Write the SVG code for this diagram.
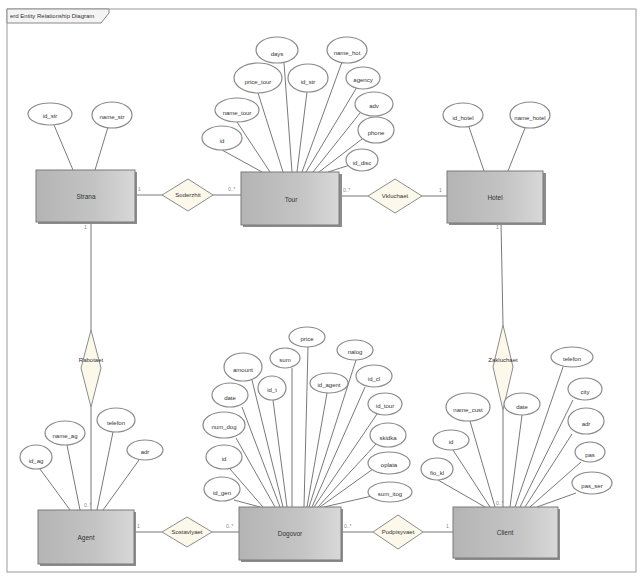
<svg xmlns="http://www.w3.org/2000/svg" width="640" height="577" viewBox="0 0 640 577">
<defs>
<linearGradient id="eg" x1="0" y1="0" x2="1" y2="0">
<stop offset="0" stop-color="#b4b4b4"/>
<stop offset="0.6" stop-color="#c4c4c4"/>
<stop offset="1" stop-color="#d8d8d8"/>
</linearGradient>
<style>
.frame{fill:none;stroke:#9a9a9a;stroke-width:1}
.tab{fill:#f4f4f4;stroke:#8a8a8a;stroke-width:1}
.ent{fill:url(#eg);stroke:#7a7a7a;stroke-width:1}
.sh{fill:#8c8c8c}
.rel{fill:#fcf8ea;stroke:#8c8c8c;stroke-width:1}
.att{fill:#ffffff;stroke:#8a8a8a;stroke-width:1.2}
.ln{stroke:#6a6a6a;stroke-width:0.9;fill:none}
.t{font-family:"Liberation Sans",Arial,sans-serif;font-size:6px;fill:#333;text-anchor:middle;dominant-baseline:central}
.et{font-family:"Liberation Sans",Arial,sans-serif;font-size:6.5px;fill:#333;text-anchor:middle;dominant-baseline:central}
.m{font-family:"Liberation Sans",Arial,sans-serif;font-size:5px;fill:#888}
.tt{font-family:"Liberation Sans",Arial,sans-serif;font-size:6px;fill:#333}
</style>
</defs>
<rect width="640" height="577" fill="#ffffff"/>
<g id="frame">
<rect class="frame" x="7" y="9" width="629" height="563"/>
<path class="tab" d="M7,9 H109 V13 L101,23 H7 Z"/>
<text class="tt" x="10" y="18">erd Entity Relationship Diagram</text>
</g>
<g id="connectors">
<line class="ln" x1="135" y1="195" x2="162" y2="195"/>
<line class="ln" x1="213" y1="195" x2="241" y2="195"/>
<line class="ln" x1="339" y1="196" x2="368" y2="196"/>
<line class="ln" x1="422" y1="196" x2="447" y2="196"/>
<line class="ln" x1="91" y1="222" x2="91" y2="330"/>
<line class="ln" x1="91" y1="407" x2="91" y2="510"/>
<line class="ln" x1="501" y1="222" x2="503" y2="325"/>
<line class="ln" x1="503" y1="410" x2="503" y2="507"/>
<line class="ln" x1="134" y1="532" x2="162" y2="532"/>
<line class="ln" x1="212" y1="532" x2="239" y2="532"/>
<line class="ln" x1="341" y1="532" x2="373" y2="532"/>
<line class="ln" x1="423" y1="532" x2="453" y2="532"/>
<!-- attribute links E1 -->
<line class="ln" x1="54" y1="125" x2="73" y2="170"/>
<line class="ln" x1="108" y1="127" x2="95" y2="170"/>
<!-- E2 -->
<line class="ln" x1="222" y1="150" x2="262" y2="172"/>
<line class="ln" x1="237" y1="122" x2="270" y2="172"/>
<line class="ln" x1="258" y1="93" x2="283" y2="172"/>
<line class="ln" x1="284" y1="63" x2="292" y2="172"/>
<line class="ln" x1="307" y1="92" x2="297" y2="172"/>
<line class="ln" x1="342" y1="62" x2="302" y2="172"/>
<line class="ln" x1="357" y1="87" x2="306" y2="172"/>
<line class="ln" x1="360" y1="113" x2="313" y2="172"/>
<line class="ln" x1="362" y1="139" x2="319" y2="172"/>
<line class="ln" x1="350" y1="165" x2="328" y2="172"/>
<!-- E3 -->
<line class="ln" x1="469" y1="127" x2="484" y2="171"/>
<line class="ln" x1="525" y1="128" x2="508" y2="171"/>
<!-- E4 -->
<line class="ln" x1="40" y1="469" x2="70" y2="510"/>
<line class="ln" x1="67" y1="445" x2="80" y2="510"/>
<line class="ln" x1="113" y1="432" x2="97" y2="510"/>
<line class="ln" x1="139" y1="460" x2="103" y2="510"/>
<!-- E5 -->
<line class="ln" x1="234" y1="500" x2="260" y2="507"/>
<line class="ln" x1="230" y1="469" x2="263" y2="507"/>
<line class="ln" x1="236" y1="438" x2="275" y2="507"/>
<line class="ln" x1="242" y1="407" x2="280" y2="507"/>
<line class="ln" x1="252" y1="380" x2="283" y2="507"/>
<line class="ln" x1="273" y1="400" x2="287" y2="507"/>
<line class="ln" x1="292" y1="368" x2="292" y2="507"/>
<line class="ln" x1="308" y1="347" x2="304" y2="507"/>
<line class="ln" x1="327" y1="393" x2="307" y2="507"/>
<line class="ln" x1="356" y1="360" x2="309" y2="507"/>
<line class="ln" x1="365" y1="387" x2="312" y2="507"/>
<line class="ln" x1="377" y1="414" x2="314" y2="507"/>
<line class="ln" x1="376" y1="444" x2="318" y2="507"/>
<line class="ln" x1="373" y1="469" x2="320" y2="507"/>
<line class="ln" x1="372" y1="496" x2="324" y2="507"/>
<!-- E6 -->
<line class="ln" x1="438" y1="480" x2="485" y2="507"/>
<line class="ln" x1="453" y1="450" x2="490" y2="507"/>
<line class="ln" x1="470" y1="421" x2="495" y2="507"/>
<line class="ln" x1="522" y1="415" x2="510" y2="507"/>
<line class="ln" x1="563" y1="367" x2="515" y2="507"/>
<line class="ln" x1="573" y1="400" x2="520" y2="507"/>
<line class="ln" x1="572" y1="434" x2="525" y2="507"/>
<line class="ln" x1="581" y1="462" x2="530" y2="507"/>
<line class="ln" x1="576" y1="493" x2="537" y2="507"/>
<!-- multiplicities -->
<text class="m" x="138" y="191">1</text>
<text class="m" x="228" y="191">0..*</text>
<text class="m" x="343" y="192">0..*</text>
<text class="m" x="439" y="192">1</text>
<text class="m" x="84" y="229">1</text>
<text class="m" x="84" y="507">0..*</text>
<text class="m" x="496" y="229">1</text>
<text class="m" x="496" y="505">0..*</text>
<text class="m" x="137" y="528">1</text>
<text class="m" x="226" y="528">0..*</text>
<text class="m" x="344" y="528">0..*</text>
<text class="m" x="446" y="528">1</text>
</g>
<g id="e1">
<rect class="sh" x="38" y="172" width="99" height="52"/>
<rect class="ent" x="36" y="170" width="99" height="52"/>
<text class="et" x="86" y="196">Strana</text>
</g>
<g id="e2">
<rect class="sh" x="243" y="174" width="99" height="53"/>
<rect class="ent" x="241" y="172" width="98" height="53"/>
<text class="et" x="291" y="199">Tour</text>
</g>
<g id="e3">
<rect class="sh" x="449" y="173" width="97" height="52"/>
<rect class="ent" x="447" y="171" width="96" height="52"/>
<text class="et" x="495" y="197">Hotel</text>
</g>
<g id="e4">
<rect class="sh" x="40" y="512" width="96" height="54"/>
<rect class="ent" x="38" y="510" width="96" height="54"/>
<text class="et" x="86" y="537">Agent</text>
</g>
<g id="e5">
<rect class="sh" x="241" y="509" width="102" height="53"/>
<rect class="ent" x="239" y="507" width="102" height="53"/>
<text class="et" x="290" y="533">Dogovor</text>
</g>
<g id="e6">
<rect class="sh" x="455" y="509" width="105" height="51"/>
<rect class="ent" x="453" y="507" width="105" height="51"/>
<text class="et" x="505" y="532">Client</text>
</g>
<g id="r1">
<polygon class="rel" points="162,195 188,179 213,195 188,211"/>
<text class="t" x="188" y="195">Soderzhit</text>
</g>
<g id="r2">
<polygon class="rel" points="368,196 395,179 422,196 395,213"/>
<text class="t" x="395" y="196">Vkluchaet</text>
</g>
<g id="r3">
<polygon class="rel" points="91,330 101,368 91,407 81,368"/>
<text class="t" x="91" y="360">Rabotaet</text>
</g>
<g id="r4">
<polygon class="rel" points="503,325 513,367 503,410 493,367"/>
<text class="t" x="503" y="360">Zakluchaet</text>
</g>
<g id="r5">
<polygon class="rel" points="162,532 187,517 212,532 187,547"/>
<text class="t" x="187" y="532">Sostavlyaet</text>
</g>
<g id="r6">
<polygon class="rel" points="373,532 398,515 423,532 398,549"/>
<text class="t" x="398" y="532">Podpisyvaet</text>
</g>
<g id="a1"><ellipse class="att" cx="50" cy="114" rx="22" ry="11"/><text class="t" x="50" y="116">id_str</text></g>
<g id="a2"><ellipse class="att" cx="112" cy="115" rx="20" ry="13"/><text class="t" x="112" y="117">name_str</text></g>
<g id="a3"><ellipse class="att" cx="222" cy="138" rx="20" ry="12"/><text class="t" x="222" y="141">id</text></g>
<g id="a4"><ellipse class="att" cx="237" cy="110" rx="22" ry="12"/><text class="t" x="237" y="113">name_tour</text></g>
<g id="a5"><ellipse class="att" cx="258" cy="78" rx="24" ry="15"/><text class="t" x="258" y="82">price_tour</text></g>
<g id="a6"><ellipse class="att" cx="277" cy="50" rx="21" ry="13"/><text class="t" x="277" y="54">days</text></g>
<g id="a7"><ellipse class="att" cx="308" cy="78" rx="20" ry="14"/><text class="t" x="308" y="82">id_str</text></g>
<g id="a8"><ellipse class="att" cx="347" cy="50" rx="20" ry="13"/><text class="t" x="347" y="53">name_hot</text></g>
<g id="a9"><ellipse class="att" cx="363" cy="78" rx="17" ry="11"/><text class="t" x="363" y="80">agency</text></g>
<g id="a10"><ellipse class="att" cx="374" cy="104" rx="19" ry="12"/><text class="t" x="374" y="106">adv</text></g>
<g id="a11"><ellipse class="att" cx="376" cy="130" rx="18" ry="13"/><text class="t" x="376" y="133">phone</text></g>
<g id="a12"><ellipse class="att" cx="362" cy="160" rx="16" ry="11"/><text class="t" x="362" y="163">id_disc</text></g>
<g id="a13"><ellipse class="att" cx="463" cy="115" rx="20" ry="12"/><text class="t" x="463" y="118">id_hotel</text></g>
<g id="a14"><ellipse class="att" cx="530" cy="115" rx="20" ry="13"/><text class="t" x="530" y="118">name_hotel</text></g>
<g id="a15"><ellipse class="att" cx="36" cy="457" rx="16" ry="12"/><text class="t" x="36" y="461">id_ag</text></g>
<g id="a16"><ellipse class="att" cx="65" cy="433" rx="20" ry="12"/><text class="t" x="65" y="436">name_ag</text></g>
<g id="a17"><ellipse class="att" cx="116" cy="420" rx="19" ry="12"/><text class="t" x="116" y="423">telefon</text></g>
<g id="a18"><ellipse class="att" cx="145" cy="450" rx="18" ry="10"/><text class="t" x="145" y="452">adr</text></g>
<g id="a19"><ellipse class="att" cx="222" cy="489" rx="18" ry="12"/><text class="t" x="222" y="493">id_gen</text></g>
<g id="a20"><ellipse class="att" cx="224" cy="457" rx="18" ry="12"/><text class="t" x="224" y="459">id</text></g>
<g id="a21"><ellipse class="att" cx="224" cy="425" rx="21" ry="13"/><text class="t" x="224" y="427">num_dog</text></g>
<g id="a22"><ellipse class="att" cx="230" cy="395" rx="18" ry="12"/><text class="t" x="230" y="398">date</text></g>
<g id="a23"><ellipse class="att" cx="243" cy="367" rx="19" ry="14"/><text class="t" x="243" y="370">amount</text></g>
<g id="a24"><ellipse class="att" cx="272" cy="388" rx="14" ry="12"/><text class="t" x="272" y="390">id_t</text></g>
<g id="a25"><ellipse class="att" cx="285" cy="358" rx="15" ry="10"/><text class="t" x="285" y="360">sum</text></g>
<g id="a26"><ellipse class="att" cx="307" cy="337" rx="18" ry="10"/><text class="t" x="307" y="339">price</text></g>
<g id="a27"><ellipse class="att" cx="329" cy="383" rx="19" ry="10"/><text class="t" x="329" y="385">id_agent</text></g>
<g id="a28"><ellipse class="att" cx="355" cy="350" rx="18" ry="10"/><text class="t" x="355" y="352">nalog</text></g>
<g id="a29"><ellipse class="att" cx="374" cy="376" rx="18" ry="11"/><text class="t" x="374" y="379">id_cl</text></g>
<g id="a30"><ellipse class="att" cx="385" cy="404" rx="17" ry="11"/><text class="t" x="385" y="406">id_tour</text></g>
<g id="a31"><ellipse class="att" cx="388" cy="435" rx="18" ry="12"/><text class="t" x="388" y="438">skidka</text></g>
<g id="a32"><ellipse class="att" cx="389" cy="463" rx="21" ry="11"/><text class="t" x="389" y="465">oplata</text></g>
<g id="a33"><ellipse class="att" cx="390" cy="492" rx="22" ry="10"/><text class="t" x="390" y="494">sum_itog</text></g>
<g id="a34"><ellipse class="att" cx="437" cy="469" rx="16" ry="11"/><text class="t" x="437" y="473">fio_kl</text></g>
<g id="a35"><ellipse class="att" cx="451" cy="440" rx="18" ry="10"/><text class="t" x="451" y="442">id</text></g>
<g id="a36"><ellipse class="att" cx="468" cy="407" rx="22" ry="14"/><text class="t" x="468" y="410">name_cust</text></g>
<g id="a37"><ellipse class="att" cx="522" cy="404" rx="18" ry="11"/><text class="t" x="522" y="407">date</text></g>
<g id="a38"><ellipse class="att" cx="572" cy="357" rx="21" ry="10"/><text class="t" x="572" y="359">telefon</text></g>
<g id="a39"><ellipse class="att" cx="585" cy="389" rx="17" ry="11"/><text class="t" x="585" y="392">city</text></g>
<g id="a40"><ellipse class="att" cx="586" cy="421" rx="18" ry="13"/><text class="t" x="586" y="424">adr</text></g>
<g id="a41"><ellipse class="att" cx="590" cy="452" rx="15" ry="10"/><text class="t" x="590" y="455">pas</text></g>
<g id="a42"><ellipse class="att" cx="592" cy="483" rx="20" ry="11"/><text class="t" x="592" y="486">pas_ser</text></g>
</svg>
